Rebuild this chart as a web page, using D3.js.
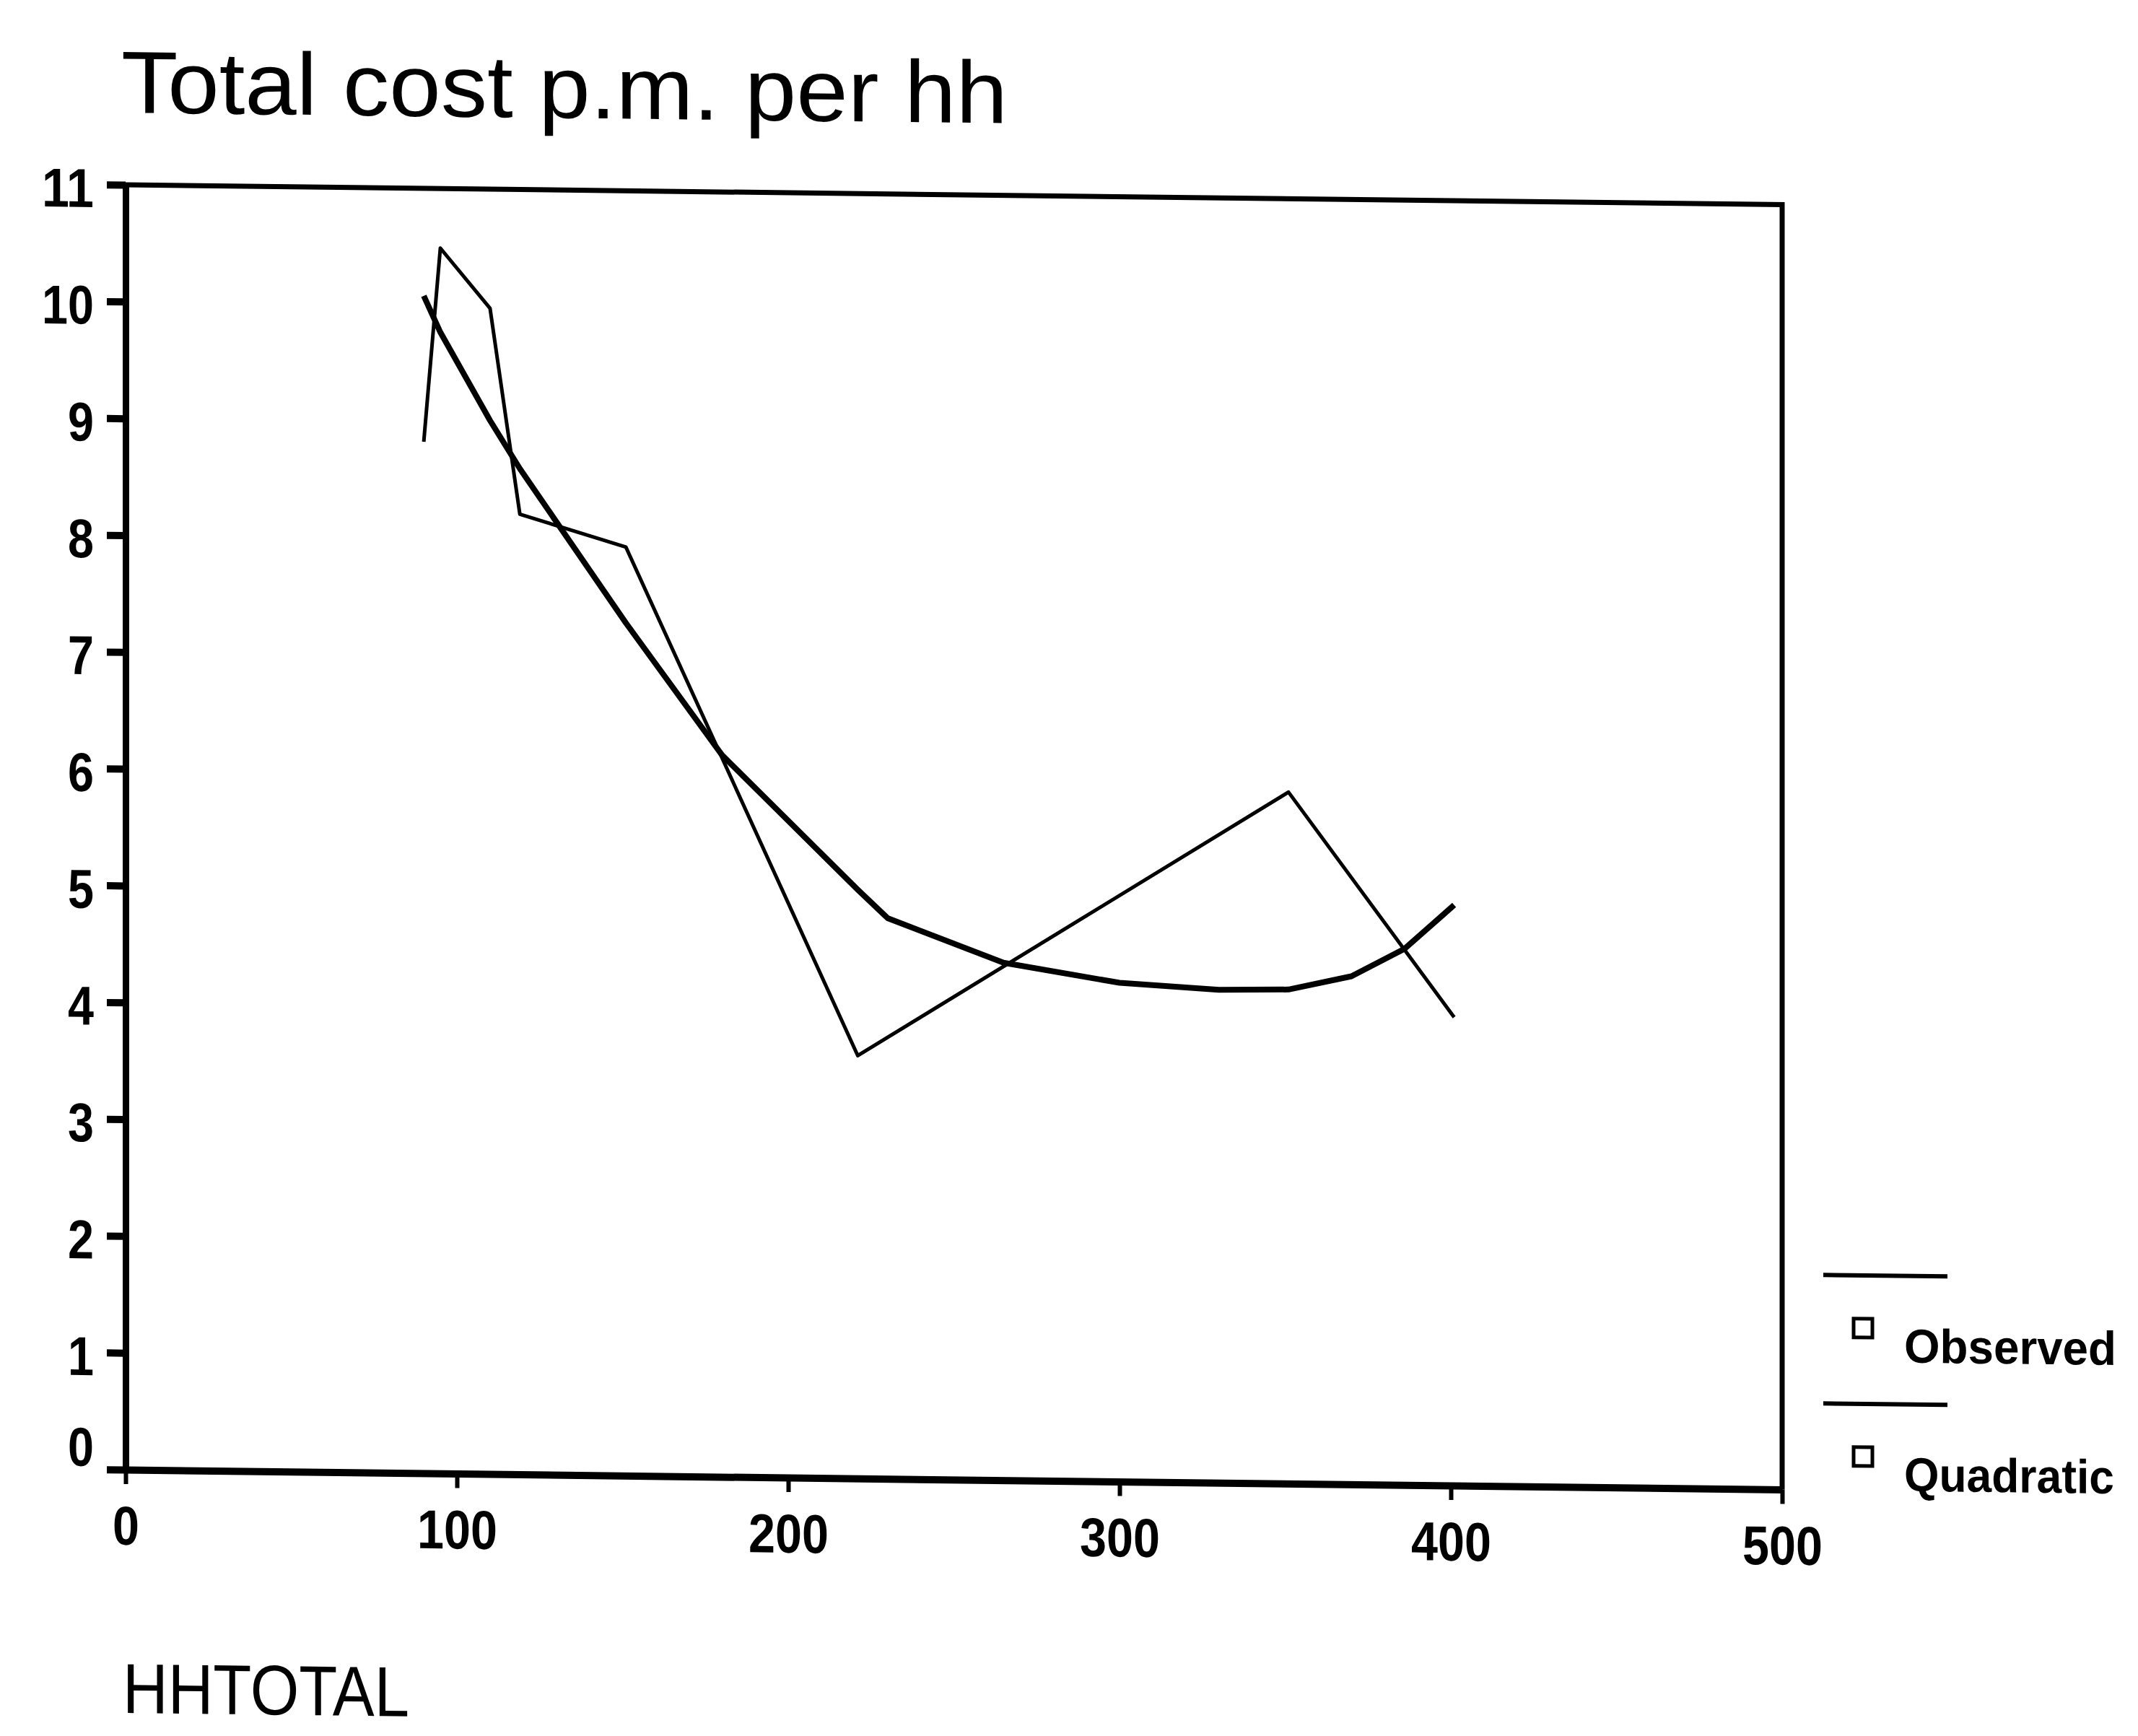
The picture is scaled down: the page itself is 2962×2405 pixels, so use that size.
<!DOCTYPE html>
<html>
<head>
<meta charset="utf-8">
<script src="https://cdn.jsdelivr.net/npm/d3@7"></script>
<style>
  body { margin: 0; background: #fff; }
  text { font-family: "Liberation Sans", Arial, sans-serif; fill: #000; }
</style>
</head>
<body>
<div class="curve-fit"></div>
<script>
// values
const hhtotal = [90, 95, 110, 119, 151, 221, 351, 401];
const observed = [8.83, 10.49, 9.98, 8.22, 7.95, 3.62, 5.92, 4.01];
const quadX = [90, 95, 110, 119, 151, 180, 221, 230, 265, 300, 330, 351, 370, 386, 401];
const quadratic = [10.08, 9.77, 9.02, 8.61, 7.30, 6.18, 5.04, 4.80, 4.43, 4.27, 4.22, 4.23, 4.35, 4.59, 4.97];
const xTicks = [0, 100, 200, 300, 400, 500];
const yTicks = [0, 1, 2, 3, 4, 5, 6, 7, 8, 9, 10, 11];
const legendLabels = ['Observed', 'Quadratic'];

// canvas
const width = 2962;
const height = 2405;
const skew = 0.012; // the scan is sheared a little

const svg = d3.select('.curve-fit').append('svg')
    .attr('width', width)
    .attr('height', height)
    .style('display', 'block');

const g = svg.append('g')
    .attr('transform', 'translate(0,' + (-174 * skew) + ') skewY(' + (Math.atan(skew) * 180 / Math.PI) + ')');

const x = d3.scaleLinear().domain([0, 500]).range([174, 2469]);
const y = d3.scaleLinear().domain([0, 11]).range([2036, 256]);

// title + x name
g.append('text')
    .attr('x', 168).attr('y', 156)
    .attr('font-size', 122)
    .attr('textLength', 1228).attr('lengthAdjust', 'spacingAndGlyphs')
    .text('Total cost p.m. per hh');

g.append('text')
    .attr('x', 170).attr('y', 2373)
    .attr('font-size', 98)
    .attr('textLength', 397).attr('lengthAdjust', 'spacingAndGlyphs')
    .text('HHTOTAL');

// frame (top and right)
g.append('path')
    .attr('d', 'M' + x(0) + ',' + y(11) + 'H' + x(500) + 'V' + y(0))
    .attr('fill', 'none')
    .attr('stroke', '#000')
    .attr('stroke-width', 7);

// axes
const yAxis = g.append('g')
    .attr('transform', 'translate(' + x(0) + ',0)')
    .call(d3.axisLeft(y).tickValues(yTicks).tickSize(26).tickSizeOuter(0).tickPadding(18));
const xAxis = g.append('g')
    .attr('transform', 'translate(0,' + y(0) + ')')
    .call(d3.axisBottom(x).tickValues(xTicks).tickSize(20).tickSizeOuter(0));

yAxis.select('.domain').attr('stroke-width', 9);
xAxis.select('.domain').attr('stroke-width', 10);
yAxis.selectAll('.tick line').attr('stroke-width', 10);
xAxis.selectAll('.tick line').attr('stroke-width', 6);

yAxis.selectAll('.tick text')
    .attr('font-size', 76).attr('font-weight', 'bold')
    .attr('font-family', '"Liberation Sans", Arial, sans-serif')
    .attr('dy', d => d === 0 ? -5 : 31)
    .attr('textLength', d => String(d).length * 36)
    .attr('lengthAdjust', 'spacingAndGlyphs');
xAxis.selectAll('.tick text')
    .attr('font-size', 76).attr('font-weight', 'bold')
    .attr('font-family', '"Liberation Sans", Arial, sans-serif')
    .attr('y', 0).attr('dy', 104)
    .attr('textLength', d => String(d).length * 37)
    .attr('lengthAdjust', 'spacingAndGlyphs');

// lines
const line = d3.line().x(d => x(d[0])).y(d => y(d[1]));

g.append('path')
    .datum(d3.zip(quadX, quadratic))
    .attr('d', line)
    .attr('fill', 'none')
    .attr('stroke', '#000')
    .attr('stroke-width', 8)
    .attr('stroke-linejoin', 'round');

g.append('path')
    .datum(d3.zip(hhtotal, observed))
    .attr('d', line)
    .attr('fill', 'none')
    .attr('stroke', '#000')
    .attr('stroke-width', 5)
    .attr('stroke-linejoin', 'round');

// legend
const legend = g.append('g').attr('transform', 'translate(2526,1738)');
const item = legend.selectAll('g')
    .data(legendLabels)
    .enter()
    .append('g')
    .attr('transform', (d, i) => 'translate(0,' + i * 178 + ')');
item.append('line')
    .attr('x1', 0).attr('x2', 172)
    .attr('stroke', '#000')
    .attr('stroke-width', 6);
item.append('rect')
    .attr('x', 42).attr('y', 60)
    .attr('width', 26).attr('height', 26)
    .attr('fill', '#fff')
    .attr('stroke', '#000')
    .attr('stroke-width', 5);
item.append('text')
    .attr('x', 112).attr('y', 120)
    .attr('font-size', 66).attr('font-weight', 'bold')
    .attr('textLength', d => d === 'Observed' ? 294 : 291)
    .attr('lengthAdjust', 'spacingAndGlyphs')
    .text(d => d);
</script>
</body>
</html>
